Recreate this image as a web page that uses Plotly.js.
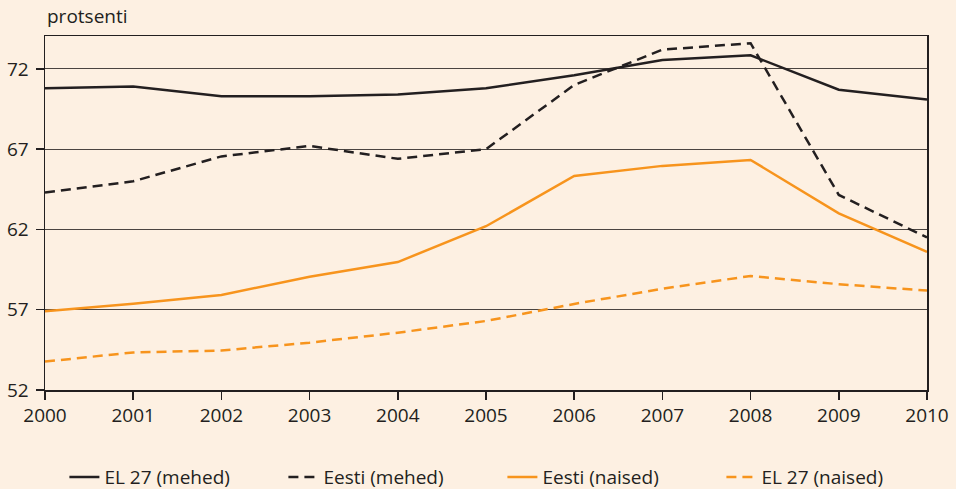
<!DOCTYPE html>
<html>
<head>
<meta charset="utf-8">
<script src="https://cdn.plot.ly/plotly-3.0.1.min.js"></script>
<style>
html,body{margin:0;padding:0;background:#FDF0E2;}
#chart{width:956px;height:489px;}
</style>
</head>
<body>
<div id="chart"></div>
<script>
const years = [2000, 2001, 2002, 2003, 2004, 2005, 2006, 2007, 2008, 2009, 2010];
const el27Mehed   = [70.8, 70.9, 70.3, 70.3, 70.4, 70.8, 71.6, 72.55, 72.85, 70.7, 70.1];
const eestiMehed  = [64.3, 65.0, 66.55, 67.2, 66.4, 67.0, 71.0, 73.2, 73.6, 64.15, 61.5];
const eestiNaised = [56.9, 57.37, 57.92, 59.05, 59.97, 62.2, 65.33, 65.96, 66.33, 63.0, 60.6];
const el27Naised  = [53.77, 54.34, 54.46, 54.95, 55.57, 56.3, 57.36, 58.31, 59.1, 58.59, 58.19];
const seriesNames = ['EL 27 (mehed)', 'Eesti (mehed)', 'Eesti (naised)', 'EL 27 (naised)'];
const yTicks = [52, 57, 62, 67, 72];
const xTicks = years;

const BLACK = '#231F20';
const ORANGE = '#F7941D';
const FONT = 'Open Sans, Noto Sans, sans-serif';

const traces = [
  {x: years, y: el27Mehed, name: seriesNames[0], mode: 'lines', line: {color: BLACK, width: 2.5}},
  {x: years, y: eestiMehed, name: seriesNames[1], mode: 'lines', line: {color: BLACK, width: 2.5, dash: '10px,6px'}},
  {x: years, y: eestiNaised, name: seriesNames[2], mode: 'lines', line: {color: ORANGE, width: 2.5}},
  {x: years, y: el27Naised, name: seriesNames[3], mode: 'lines', line: {color: ORANGE, width: 2.5, dash: '10px,6px'}}
];

const layout = {
  width: 956, height: 489,
  paper_bgcolor: '#FDF0E2', plot_bgcolor: '#FDF0E2',
  margin: {l: 45, r: 29, t: 36, b: 99, autoexpand: false},
  font: {family: FONT, size: 19, color: BLACK},
  showlegend: true,
  legend: {
    orientation: 'h', x: 0.022, xanchor: 'left', y: -0.246, yanchor: 'middle',
    entrywidth: 174, entrywidthmode: 'pixels',
    font: {family: FONT, size: 19, color: BLACK},
    bgcolor: 'rgba(0,0,0,0)', traceorder: 'normal'
  },
  xaxis: {
    range: [2000, 2010], tickvals: xTicks, ticktext: xTicks.map(String),
    showgrid: false, zeroline: false,
    showline: true, linecolor: BLACK, linewidth: 1.5, mirror: true,
    ticks: 'outside', ticklen: 8, tickcolor: BLACK, tickwidth: 1.5,
    tickfont: {family: FONT, size: 19, color: BLACK}
  },
  yaxis: {
    range: [52, 74.05], tickvals: yTicks, ticktext: yTicks.map(String),
    showgrid: true, gridcolor: '#4a4440', gridwidth: 1, zeroline: false,
    showline: true, linecolor: BLACK, linewidth: 1.5, mirror: true,
    ticks: 'outside', ticklen: 8, tickcolor: BLACK, tickwidth: 1.5,
    ticklabelstandoff: 3,
    tickfont: {family: FONT, size: 19, color: BLACK}
  },
  annotations: [{
    text: 'protsenti', xref: 'paper', yref: 'paper', x: 0, y: 1.057,
    xanchor: 'left', yanchor: 'middle', showarrow: false,
    font: {family: FONT, size: 19, color: BLACK}
  }]
};

Plotly.newPlot('chart', traces, layout, {displayModeBar: false, staticPlot: true});
</script>
</body>
</html>
